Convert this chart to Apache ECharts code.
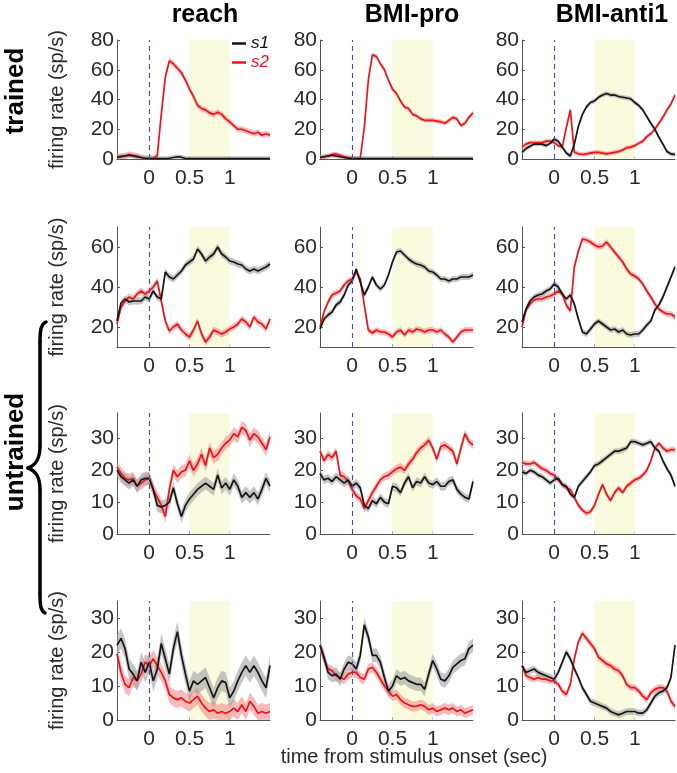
<!DOCTYPE html>
<html>
<head>
<meta charset="utf-8">
<script src="https://cdn.jsdelivr.net/npm/echarts@6/dist/echarts.min.js"></script>
<style>
html,body{margin:0;padding:0;background:#fff;}
#chart{width:677px;height:773px;}
</style>
</head>
<body>
<div id="chart"></div>
<script>
// time from stimulus onset (sec)
const T = [-0.4,-0.35,-0.3,-0.25,-0.2,-0.15,-0.1,-0.05,0,0.05,0.1,0.15,0.2,0.25,0.3,0.35,0.4,0.45,0.5,0.55,0.6,0.65,0.7,0.75,0.8,0.85,0.9,0.95,1.0,1.05,1.1,1.15,1.2,1.25,1.3,1.35,1.4,1.45,1.5];

const columnTitles = ['reach', 'BMI-pro', 'BMI-anti1'];
const xTicks = [0, 0.5, 1];
const yTicksRow = [[0,20,40,60,80],[20,40,60],[0,10,20,30],[0,10,20,30]];
const yRangeRow = [[0,80],[10,70],[0,38],[0,35]];

// Row 1 (trained)
const row1_reach_s1 = [1,1.5,2,2.5,2,1.5,1,0.5,0.3,0.3,0.3,0.3,0.3,0.5,1,1.5,1.2,0.3,0.3,0.3,0.3,0.3,0.3,0.3,0.3,0.3,0.3,0.3,0.3,0.3,0.3,0.3,0.3,0.3,0.3,0.3,0.3,0.3,0.3];
const row1_reach_s2 = [1.5,2,2,3,2.5,2,1,0.5,0.5,0.5,2,30,55,66,64,61,58,53,47,42,36,34,33,31,30,31.5,30,27,25,22.5,20,20,19,18,17,18,16,17,16];
const row1_pro_s1 = [1,1.5,2,2.5,2,1.5,1,0.5,0.3,0.3,0.3,0.3,0.3,0.3,0.3,0.3,0.3,0.3,0.3,0.3,0.3,0.3,0.3,0.3,0.3,0.3,0.3,0.3,0.3,0.3,0.3,0.3,0.3,0.3,0.3,0.3,0.3,0.3,0.3];
const row1_pro_s2 = [1,1.5,2,3,3.4,2.5,1.5,1,0.5,0.3,0.5,21,53,70,69,64,60,53,47,44,39,35,34,30,29,27,26,26,26,25.5,25,24,26,28,27,22.5,24,28,31];
const row1_anti_s1 = [4.5,7,8.5,10,10,10,9,10.5,13.5,12,8,4,2,10,22,30,35,38,39,41.5,43,44,43,43,42,41.5,41,40.5,38,36,33,28.5,24,20,14.6,10,5,3.4,3];
const row1_anti_s2 = [8,10,11,11,11,11,12,12,11,9,8,21,33,4.5,3.5,3,3.4,4,4.5,4.5,4,3.4,4,4.5,5,6,7.5,8,9,10.5,12,15,17,20,24,28,33,37,43];

// Row 2 (untrained)
const row2_reach_s1 = [23,32,34,32.5,33,33,33,35,34,38,35,34,47.5,45,44,46,48,51,52.5,54,59,56.5,53,55,56.5,60,56.5,55,53,52.5,51.5,51,49,48,49,48,49,50,51.5];
const row2_reach_s2 = [21.5,30,33,35,34,36.5,38,36.5,38,40,43,33,23,18,20,21.5,18.5,16.5,15,18.5,23,16.5,12.5,15,18.5,17.5,16.5,17.5,19,20,21.5,24,22.5,20,25,22.5,21.5,19,24];
const row2_pro_s1 = [19,24,26,27.5,31,32.5,36,41,43,49,42.5,36,40,45,41,39,41,46,52.5,57.5,58,56,54,52.5,51.5,51,50,48,47.5,46,44,44,43,44,44,45,45,45,46];
const row2_pro_s2 = [20,27.5,32.5,36,37,38,41,43,44,47.5,44,31,18.5,17,18.5,17.5,17.5,16.5,15,17.5,18.5,16,18.5,17.5,19,18.5,17.5,18.5,18.5,17.5,18.5,16.5,15,12.5,15,17.5,18.5,18.5,18.5];
const row2_anti_s1 = [22.5,29,33,35,36,36.5,38,39,41.5,40,36.5,34,36,31.5,24,17.5,16.5,19,21.5,23,21.5,20,18.5,19,17.5,18.5,16.5,16,16.5,16.5,18.5,21,23,28.5,31,35,40,45,50];
const row2_anti_s2 = [20,28.5,31.5,33.5,34,34,35,35.5,36.5,38,36.5,31,28,50,58,64,63.5,62.5,61,60,60.5,62.5,60,57.5,55,52.5,49,46.5,45.5,44,41.5,38,35,31.5,29,27.5,26.5,26.5,25];

// Row 3 (untrained)
const row3_reach_s1 = [20,18,17,16,17,15,17,17.5,17.5,14,9,8.5,9,10,14.5,9.5,5.5,9,11,12.5,14,15,16,15,14,18.5,14.5,16,14,17,15,11.5,13,11.5,13,11,14,17.5,15];
const row3_reach_s2 = [21,19,17.5,17,17.5,15,16,17,17.5,14,11.5,9,5.5,14,20,18,19.5,20,23,20,22,25,21.5,27,24,25,27,28.5,29.5,31.5,30.5,33.5,32.5,29.5,31.5,30.5,28.5,26.5,30.5];
const row3_pro_s1 = [19,17,17.5,16.5,18,17,16,17,15,16,14.5,9,8,10.5,9.5,11.5,10,9.5,15,14.5,13,16,18,14.5,16.5,16,18,16,15.5,16.5,15,15,16.5,17,14,12.5,11.5,11,16.5];
const row3_pro_s2 = [26,23,25,24,26,18.5,18,16.5,14,12,11,8,10.5,13,15,17,18,18.5,19.5,20.5,21,20,22,23.5,25.5,27,28,29.5,27,23.5,27.5,28,27,26,22,27,31.5,29,28];
const row3_anti_s1 = [19.5,19,20,19.5,18.5,18,17,16,17,17.5,15.5,15,12.5,11.5,15,16.5,18,19.5,21.5,22,23,24,25,26,26,26.5,27,29,29,28.5,28,28.5,29,27,26,23,20.5,18.5,15];
const row3_anti_s2 = [22.5,22,22,22.5,21.5,20.5,20,19,18.5,17,15.5,14.5,14,11.5,9,7.5,6.5,7,9,12.5,15.5,12.5,10.5,13,14.5,13,15,16,17,17.5,18.5,20,23,27,28.5,27,26,26.5,26.5];

// Row 4 (untrained)
const row4_reach_s1 = [22,24,21,15,13.5,11.5,17,14,17,11.5,15,22.5,18,13.5,21,26,19,13.5,8.5,11.5,10.5,11.5,12.5,9.5,6.5,9.5,11.5,11,6.5,8.5,11.5,14,16,14,16,14,11.5,9.5,16];
const row4_reach_s2 = [19.5,14,10.5,9.5,12.5,11.5,13.5,17,16,18,16,14,11.5,7.5,6.5,6,6.5,5.5,5,6,7,5,3.5,2.5,3,2,2.5,2,2.5,3.5,2.5,4.5,2.5,5.5,4,2,2.5,2,2.5];
const row4_pro_s1 = [22,18.5,14,13,13.5,12,15,17,16.5,15,19,28,24.5,19,19,17,12.5,8.5,10,13,12,12.5,11.5,11,10.5,10.5,9,13.5,17.5,15,12,11.5,13,15.5,16.5,17.5,18,21,22];
const row4_pro_s2 = [22,18,15,14.5,13,12.5,12,13.5,14,14,12.5,12,15,15.5,14,12,10,8.5,7,7.5,6,5,4.5,4,4,4.5,4,3,3.5,2.5,3,3.5,3,3.5,2.5,3,2,2.5,3];
const row4_anti_s1 = [16,14,14.5,15,14,13.5,13,12.5,12,14,17,20,18,15,12.5,9.5,7.5,5.5,5,4.5,4,3.5,2.5,2,1.5,2,2.5,2.5,2.5,2,2,3,5,7,8,8.5,9.5,12.5,22];
const row4_anti_s2 = [16,13,12.5,12,12.5,12,12,11.5,11.5,10.5,8.5,7.5,10.5,18,23,25.5,24,22.5,21,18.5,17.5,16.5,16,15,14.5,13,10.5,9.5,9.5,8.5,7,6,8,9,9.5,9.5,8.5,5.5,4];

// standard error (half-width of shaded band), [s1, s2] per panel
const semRow = [
  [[1.5,2],[1.5,1.5],[1.5,1.5]],
  [[1.8,1.8],[1.5,1.5],[1.5,1.5]],
  [[2,2],[1.3,1.3],[0.9,0.9]],
  [[3,2.5],[2,1.5],[1,1]]
];

const panels = [
  [[row1_reach_s1,row1_reach_s2],[row1_pro_s1,row1_pro_s2],[row1_anti_s1,row1_anti_s2]],
  [[row2_reach_s1,row2_reach_s2],[row2_pro_s1,row2_pro_s2],[row2_anti_s1,row2_anti_s2]],
  [[row3_reach_s1,row3_reach_s2],[row3_pro_s1,row3_pro_s2],[row3_anti_s1,row3_anti_s2]],
  [[row4_reach_s1,row4_reach_s2],[row4_pro_s1,row4_pro_s2],[row4_anti_s1,row4_anti_s2]]
];

// layout
const colLeft = [117, 320, 522];
const colWidth = 153;
const rowTop = [40, 227, 413, 601];
const rowHeight = [119, 120, 121, 119];
const FONT = 'Liberation Sans, Arial, Helvetica, sans-serif';
const lineColor = ['#151515', '#e8151b'];
const bandColor = ['rgba(160,160,160,0.6)', 'rgba(242,130,130,0.55)'];

const chart = echarts.init(document.getElementById('chart'), null, {renderer: 'canvas'});
const grids = [], xAxes = [], yAxes = [], series = [];

function bandRenderer(vals, sem, lo, hi, color) {
  return function (params, api) {
    const upper = [], lower = [];
    for (let i = 0; i < T.length; i++) {
      upper.push(api.coord([T[i], Math.min(hi, vals[i] + sem)]));
      lower.push(api.coord([T[i], Math.max(lo, vals[i] - sem)]));
    }
    return {type: 'polygon', shape: {points: upper.concat(lower.reverse())},
      style: {fill: color}, silent: true};
  };
}

for (let r = 0; r < 4; r++) {
  for (let c = 0; c < 3; c++) {
    const gi = grids.length;
    grids.push({left: colLeft[c], top: rowTop[r], width: colWidth, height: rowHeight[r], containLabel: false});
    xAxes.push({
      type: 'value', gridIndex: gi, min: -0.4, max: 1.5,
      axisLine: {show: true, onZero: false, lineStyle: {color: '#555', width: 1}},
      axisTick: {show: true, inside: true, length: 3, customValues: xTicks, lineStyle: {color: '#555'}},
      axisLabel: {show: true, customValues: xTicks, fontSize: 21, color: '#2a2a2a', fontFamily: FONT, margin: 9,
        formatter: v => String(v)},
      splitLine: {show: false}
    });
    yAxes.push({
      type: 'value', gridIndex: gi, min: yRangeRow[r][0], max: yRangeRow[r][1],
      name: c === 0 ? 'firing rate (sp/s)' : '',
      nameLocation: 'middle', nameGap: 50,
      nameTextStyle: {fontSize: 20, color: '#2a2a2a', fontFamily: FONT},
      axisLine: {show: true, onZero: false, lineStyle: {color: '#555', width: 1}},
      axisTick: {show: true, inside: true, length: 3, customValues: yTicksRow[r], lineStyle: {color: '#555'}},
      axisLabel: {show: true, customValues: yTicksRow[r], fontSize: 21, color: '#2a2a2a', fontFamily: FONT, margin: 3},
      splitLine: {show: false}
    });
    // helper series holding shading + onset marker
    series.push({
      type: 'line', xAxisIndex: gi, yAxisIndex: gi, data: [], silent: true, z: 0,
      markArea: {silent: true, itemStyle: {color: '#fafade'}, data: [[{xAxis: 0.5}, {xAxis: 1}]]},
      markLine: {silent: true, symbol: 'none', label: {show: false},
        lineStyle: {color: '#4848c0', type: [5, 4], width: 1.1}, data: [{xAxis: 0}]}
    });
    // SEM bands, s2 first so s1 draws on top
    for (const k of [1, 0]) {
      series.push({
        type: 'custom', name: 'band', xAxisIndex: gi, yAxisIndex: gi, silent: true, z: 1,
        data: [[T[0], panels[r][c][k][0]]],
        renderItem: bandRenderer(panels[r][c][k], semRow[r][c][k], yRangeRow[r][0], yRangeRow[r][1], bandColor[k])
      });
    }
    for (const k of [1, 0]) {
      const vals = panels[r][c][k];
      series.push({
        type: 'line', name: k === 0 ? 's1' : 's2', xAxisIndex: gi, yAxisIndex: gi,
        data: T.map((t, i) => [t, vals[i]]), symbol: 'none',
        lineStyle: {color: lineColor[k], width: 1.7}, itemStyle: {color: lineColor[k]}, z: 3
      });
    }
  }
}

const graphics = [];
const titleX = [205, 412, 612];
columnTitles.forEach((t, i) => {
  graphics.push({type: 'text', x: titleX[i], y: 15, style: {text: t, fontSize: 25, fontWeight: 'bold',
    fontFamily: FONT, fill: '#000', textAlign: 'center', textVerticalAlign: 'middle'}});
});
graphics.push({type: 'text', x: 16, y: 91, rotation: Math.PI / 2, style: {text: 'trained', fontSize: 26,
  fontWeight: 'bold', fontFamily: FONT, fill: '#000', textAlign: 'center', textVerticalAlign: 'middle'}});
graphics.push({type: 'text', x: 16, y: 452, rotation: Math.PI / 2, style: {text: 'untrained', fontSize: 26,
  fontWeight: 'bold', fontFamily: FONT, fill: '#000', textAlign: 'center', textVerticalAlign: 'middle'}});
// curly brace
const braceStyle = {fill: 'none', stroke: '#000', lineWidth: 3.5, lineCap: 'round'};
graphics.push({type: 'bezierCurve', shape: {x1: 46, y1: 322, cpx1: 41, cpy1: 324, cpx2: 40, cpy2: 330, x2: 40, y2: 342}, style: braceStyle});
graphics.push({type: 'line', shape: {x1: 40, y1: 342, x2: 40, y2: 446}, style: braceStyle});
graphics.push({type: 'bezierCurve', shape: {x1: 40, y1: 446, cpx1: 40, cpy1: 459, cpx2: 36, cpy2: 465, x2: 28, y2: 468}, style: braceStyle});
graphics.push({type: 'bezierCurve', shape: {x1: 28, y1: 468, cpx1: 36, cpy1: 471, cpx2: 40, cpy2: 477, x2: 40, y2: 490}, style: braceStyle});
graphics.push({type: 'line', shape: {x1: 40, y1: 490, x2: 40, y2: 594}, style: braceStyle});
graphics.push({type: 'bezierCurve', shape: {x1: 40, y1: 594, cpx1: 40, cpy1: 606, cpx2: 41, cpy2: 611, x2: 45, y2: 613}, style: braceStyle});
graphics.push({type: 'text', x: 414, y: 757, style: {text: 'time from stimulus onset (sec)', fontSize: 20,
  fontFamily: FONT, fill: '#2a2a2a', textAlign: 'center', textVerticalAlign: 'middle'}});

chart.setOption({
  animation: false,
  backgroundColor: '#ffffff',
  grid: grids, xAxis: xAxes, yAxis: yAxes, series: series,
  legend: {
    data: [{name: 's1', icon: 'rect', textStyle: {color: '#111'}}, {name: 's2', icon: 'rect', textStyle: {color: '#e8151b'}}],
    orient: 'vertical', left: 232, top: 35, itemWidth: 14, itemHeight: 2.5, itemGap: 2,
    textStyle: {fontSize: 17, fontStyle: 'italic', fontFamily: FONT}, selectedMode: false, padding: 0
  },
  graphic: graphics
});
</script>
</body>
</html>
